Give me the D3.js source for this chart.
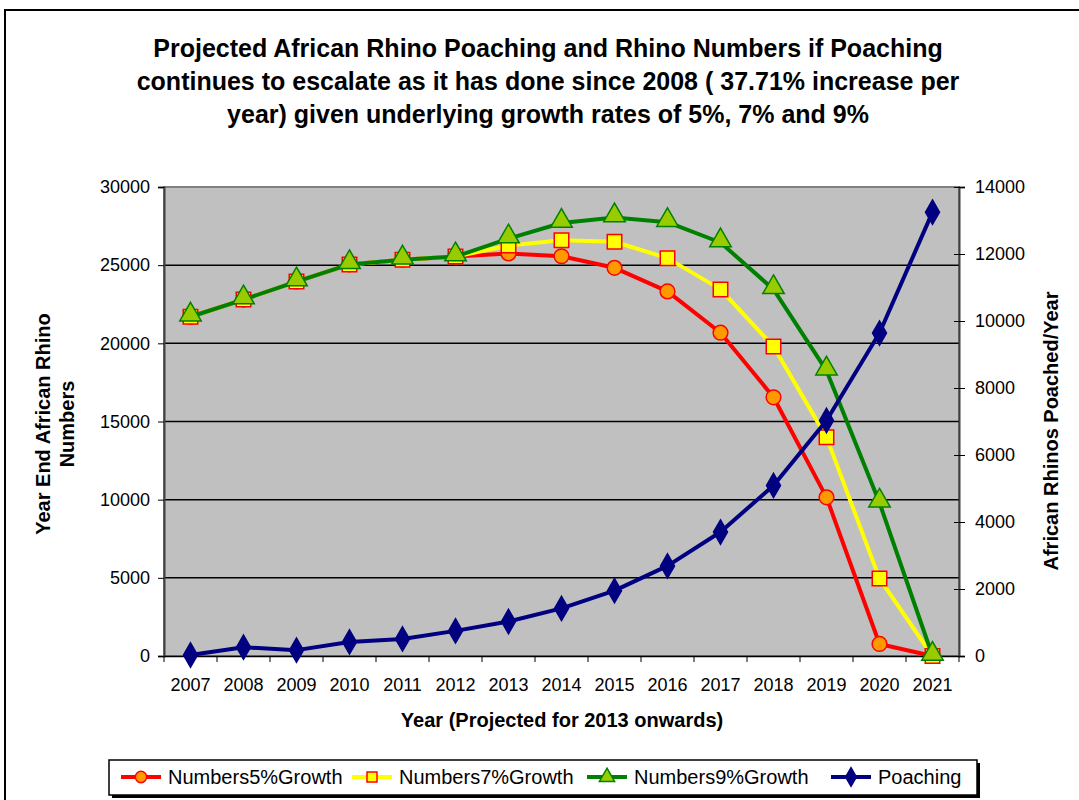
<!DOCTYPE html>
<html>
<head>
    <meta charset="utf-8">
    <style>
        body { margin: 0; background: #fff; }
        text { font-family: "Liberation Sans", Arial, sans-serif; }
    </style>
</head>
<body>
    <svg width="1079" height="800"></svg>
    <script src="https://d3js.org/d3.v7.min.js"></script>
    <script>
        let years = ["2007", "2008", "2009", "2010", "2011", "2012", "2013", "2014",
                     "2015", "2016", "2017", "2018", "2019", "2020", "2021"];
        let growth5 = [21700, 22800, 23950, 25050, 25350, 25550, 25750, 25570, 24830, 23320, 20680, 16550, 10150, 770, 0];
        let growth7 = [21700, 22800, 23950, 25050, 25350, 25550, 26250, 26600, 26500, 25450, 23450, 19800, 14000, 4950, 0];
        let growth9 = [21700, 22800, 23950, 25050, 25350, 25550, 26700, 27700, 28050, 27750, 26450, 23450, 18250, 9800, 0];
        let poaching = [30, 262, 175, 420, 510, 750, 1030, 1420, 1950, 2690, 3700, 5090, 7030, 9640, 13250];
        let leftTicks = [0, 5000, 10000, 15000, 20000, 25000, 30000];
        let rightTicks = [0, 2000, 4000, 6000, 8000, 10000, 12000, 14000];

        let svg = d3.select("svg");
        let plot = {left: 164, right: 959, top: 187, bottom: 656};

        // outer chart frame (runs off the right and bottom)
        svg.append("rect").attr("x", 5).attr("y", 10).attr("width", 1100).attr("height", 820)
            .attr("fill", "#fff").attr("stroke", "#000").attr("stroke-width", 2);

        let x = d3.scaleBand().domain(years).range([plot.left, plot.right]);
        let yLeft = d3.scaleLinear().domain([0, 30000]).range([plot.bottom, plot.top]);
        let yRight = d3.scaleLinear().domain([0, 14000]).range([plot.bottom, plot.top]);

        svg.append("rect").attr("x", plot.left).attr("y", plot.top)
            .attr("width", plot.right - plot.left).attr("height", plot.bottom - plot.top)
            .attr("fill", "#c0c0c0").attr("stroke", "#808080").attr("stroke-width", 2);

        svg.selectAll(".grid").data(leftTicks.slice(1, -1)).enter().append("line")
            .attr("x1", plot.left).attr("x2", plot.right)
            .attr("y1", d => yLeft(d)).attr("y2", d => yLeft(d))
            .attr("stroke", "#000").attr("stroke-width", 1.5);

        // axes
        let axisLeft = svg.append("g").attr("transform", `translate(${plot.left},0)`)
            .call(d3.axisLeft(yLeft).tickValues(leftTicks).tickSize(6).tickPadding(8).tickFormat(d3.format("d")));
        let axisRight = svg.append("g").attr("transform", `translate(${plot.right},0)`)
            .call(d3.axisRight(yRight).tickValues(rightTicks).tickSize(6).tickPadding(10).tickFormat(d3.format("d")));
        axisRight.selectAll(".tick line").attr("x1", -5);
        let axisBottom = svg.append("g").attr("transform", `translate(0,${plot.bottom})`)
            .call(d3.axisBottom(x).tickSize(0).tickPadding(22));
        axisBottom.selectAll(".tick").append("line")
            .attr("x1", -x.bandwidth() / 2).attr("x2", -x.bandwidth() / 2).attr("y2", 6)
            .attr("stroke", "#000");
        axisBottom.append("line").attr("x1", plot.right).attr("x2", plot.right).attr("y2", 6).attr("stroke", "#000");

        [axisLeft, axisRight, axisBottom].forEach(g => {
            g.select(".domain").attr("stroke", "#404040").attr("stroke-width", 2);
            g.selectAll("text").attr("font-size", 18).attr("fill", "#000")
                .attr("font-family", "Liberation Sans, Arial, sans-serif");
        });
        axisBottom.select(".domain").attr("stroke", "#000").attr("stroke-width", 1.5);

        // series
        let series = [
            {name: "Numbers5%Growth", values: growth5, scale: yLeft, line: "#ff0000", marker: "circle", fill: "#ff9900", edge: "#ff0000"},
            {name: "Numbers7%Growth", values: growth7, scale: yLeft, line: "#ffff00", marker: "square", fill: "#ffff00", edge: "#ff0000"},
            {name: "Numbers9%Growth", values: growth9, scale: yLeft, line: "#008000", marker: "triangle", fill: "#99cc00", edge: "#008000"},
            {name: "Poaching", values: poaching, scale: yRight, line: "#000080", marker: "diamond", fill: "#000080", edge: "#000080"}
        ];
        let symbols = {
            circle: d3.symbol().type(d3.symbolCircle).size(170),
            square: d3.symbol().type(d3.symbolSquare).size(210),
            triangle: d3.symbol().type(d3.symbolTriangle).size(200),
            diamond: d3.symbol().type(d3.symbolDiamond).size(170)
        };

        series.forEach(s => {
            let line = d3.line().x((d, i) => x(years[i]) + x.bandwidth() / 2).y(d => s.scale(d));
            svg.append("path").datum(s.values).attr("d", line)
                .attr("fill", "none").attr("stroke", s.line).attr("stroke-width", 4)
                .attr("stroke-linejoin", "round");
            svg.selectAll(null).data(s.values).enter().append("path")
                .attr("d", symbols[s.marker])
                .attr("transform", (d, i) => `translate(${x(years[i]) + x.bandwidth() / 2},${s.scale(d) - (s.marker === "triangle" ? 2 : 0)})`)
                .attr("fill", s.fill).attr("stroke", s.edge).attr("stroke-width", 1.5);
        });

        // titles
        let title = ["Projected African Rhino Poaching and Rhino Numbers if Poaching",
                     "continues to escalate as it has done since 2008 ( 37.71% increase per",
                     "year) given underlying growth rates of 5%, 7% and 9%"];
        svg.selectAll(".title").data(title).enter().append("text")
            .attr("x", 548).attr("y", (d, i) => 57 + i * 33)
            .attr("text-anchor", "middle").attr("font-size", 25).attr("font-weight", "bold")
            .text(d => d);

        svg.append("text").attr("x", 562).attr("y", 727).attr("text-anchor", "middle")
            .attr("font-size", 20).attr("font-weight", "bold").text("Year (Projected for 2013 onwards)");

        let leftTitle = svg.append("text").attr("transform", "translate(50,424) rotate(-90)")
            .attr("text-anchor", "middle").attr("font-size", 20).attr("font-weight", "bold");
        leftTitle.append("tspan").attr("x", 0).attr("y", 0).text("Year End African Rhino");
        leftTitle.append("tspan").attr("x", 0).attr("y", 24).text("Numbers");

        svg.append("text").attr("transform", "translate(1058,431) rotate(-90)")
            .attr("text-anchor", "middle").attr("font-size", 20).attr("font-weight", "bold")
            .text("African Rhinos Poached/Year");

        // legend
        let legend = svg.append("g");
        legend.append("rect").attr("x", 112).attr("y", 763).attr("width", 868).attr("height", 35).attr("fill", "#000");
        legend.append("rect").attr("x", 109).attr("y", 760).attr("width", 868).attr("height", 35)
            .attr("fill", "#fff").attr("stroke", "#000").attr("stroke-width", 1.5);
        let legendX = [121, 352, 587, 831];
        series.forEach((s, i) => {
            let g = legend.append("g").attr("transform", `translate(${legendX[i]},777)`);
            g.append("line").attr("x1", 0).attr("x2", 40).attr("stroke", s.line).attr("stroke-width", 4);
            g.append("path").attr("d", d3.symbol().type([d3.symbolCircle, d3.symbolSquare, d3.symbolTriangle, d3.symbolDiamond][i]).size(100))
                .attr("transform", "translate(20,0)")
                .attr("fill", s.fill).attr("stroke", s.edge).attr("stroke-width", 1.5);
            g.append("text").attr("x", 47).attr("y", 7).attr("font-size", 20).text(s.name);
        });
    </script>
</body>
</html>
